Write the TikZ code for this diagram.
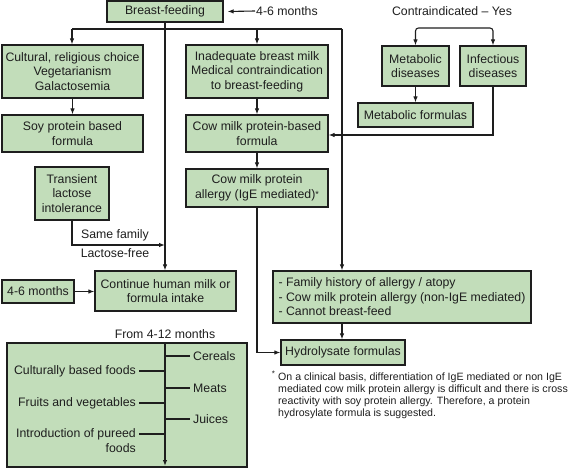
\documentclass[tikz,border=0pt]{standalone}
\usepackage{fontspec}
\setmainfont{Liberation Sans}
\usetikzlibrary{arrows.meta}
\definecolor{boxgreen}{RGB}{194,221,186}
\definecolor{edgec}{RGB}{30,30,30}
\begin{document}
\begin{tikzpicture}[x=1pt,y=-1pt,
  every node/.style={font=\fontsize{12.3}{14.5}\selectfont, text=edgec},
  box/.style={draw=edgec, fill=boxgreen, line width=1.2pt, inner sep=0pt, align=center},
  arr/.style={draw=edgec, line width=1.1pt, -{Latex[length=6pt,width=4.5pt]}},
  arrboth/.style={draw=edgec, line width=1.1pt, {Latex[length=6pt,width=4.5pt]}-{Latex[length=6pt,width=4.5pt]}},
  ln/.style={draw=edgec, line width=1.1pt},
  lbl/.style={inner sep=1pt},
  note/.style={font=\fontsize{10.6}{11.8}\selectfont, inner sep=0pt, align=left}]
\useasboundingbox (0,0) rectangle (572,468);

% boxes
\node[box, minimum width=116pt, minimum height=21pt] (bf) at (165,11.5) {Breast-feeding};
\node[box, minimum width=141pt, minimum height=53pt] (cult) at (72.5,71.5) {Cultural, religious choice\\Vegetarianism\\Galactosemia};
\node[box, minimum width=141pt, minimum height=37pt] (soy) at (72.5,133.5) {Soy protein based\\formula};
\node[box, minimum width=142pt, minimum height=53pt] (inad) at (257,71.5) {Inadequate breast milk\\Medical contraindication\\to breast-feeding};
\node[box, minimum width=142pt, minimum height=37pt] (cowb) at (257,133.5) {Cow milk protein-based\\formula};
\node[box, minimum width=142pt, minimum height=38pt] (cma) at (257,188) {Cow milk protein\\allergy (IgE mediated)\raisebox{0.5pt}{\fontsize{9}{9}\selectfont *}};
\node[box, minimum width=67pt, minimum height=40pt] (meta) at (415.5,66) {Metabolic\\diseases};
\node[box, minimum width=66pt, minimum height=40pt] (infe) at (493,66) {Infectious\\diseases};
\node[box, minimum width=115pt, minimum height=24pt] (metf) at (415.5,115) {Metabolic formulas};
\node[box, minimum width=74pt, minimum height=53pt] (trans) at (72,193.5) {Transient\\lactose\\intolerance};
\node[box, minimum width=72pt, minimum height=23pt] (four) at (38,291.5) {4-6 months};
\node[box, minimum width=141pt, minimum height=40pt] (cont) at (165.5,291) {Continue human milk or\\formula intake};
\node[box, minimum width=258pt, minimum height=52pt, align=left] (fam) at (402,297) {- Family history of allergy / atopy\\- Cow milk protein allergy (non-IgE mediated)\\- Cannot breast-feed};
\node[box, minimum width=124pt, minimum height=25pt] (hyd) at (343,352.5) {Hydrolysate formulas};
\node[box, minimum width=240pt, minimum height=124pt] (big) at (127,405) {};

% free labels
\node[lbl, anchor=west] (m46) at (255,11) {4-6 months};
\node[lbl] (contra) at (452,11) {Contraindicated -- Yes};
\node[lbl] (same) at (115,235) {Same family};
\node[lbl] (lfree) at (115,253) {Lactose-free};
\node[lbl] (from) at (165,334) {From 4-12 months};

% coordinates
\coordinate (hl) at (72,29);
\coordinate (hr) at (342,29);
\coordinate (cm) at (454,28);
\coordinate (ij) at (493,135);
\coordinate (tj) at (72,245);
\coordinate (vt) at (165,344);
\coordinate (vb) at (165,466);

% connectors
\draw[arr] (m46.west) -- ([xshift=4pt]bf.east);
\draw[arr] (bf.south) -- (bf.south |- cont.north);
\draw[ln] (hl) -- (hr);
\draw[arr] (hl) -- (hl |- cult.north);
\draw[arr] (inad.north |- hl) -- (inad.north);
\draw[arr] (hr) -- (hr |- fam.north);
\draw[arr] (cult) -- (soy);
\draw[arr] (inad) -- (cowb);
\draw[arr] (cowb) -- (cma);
\draw[arrboth, rounded corners=3pt] (meta.north) |- (cm) -| (infe.north);
\draw[arr] (meta.south) -- (meta.south |- metf.north);
\draw[arr] (infe.south) -- (ij) -- (ij -| cowb.east);
\draw[arr] (trans.south) -- (tj) -- (tj -| bf.south);
\draw[arr] (four.east) -- (four.east -| cont.west);
\draw[arr] (cma.south) |- (hyd.west);
\draw[arr] (hr |- fam.south) -- (hr |- hyd.north);

% inside the 4-12 months box
\draw[arr] (vt) -- (vb);
\node[lbl, anchor=west, inner sep=3pt] (cer) at (190,356) {Cereals};
\node[lbl, anchor=west, inner sep=3pt] (mea) at (190,388) {Meats};
\node[lbl, anchor=west, inner sep=3pt] (jui) at (190,419) {Juices};
\node[lbl, anchor=east, inner sep=3pt] (cbf) at (139,371) {Culturally based foods};
\node[lbl, anchor=east, inner sep=3pt] (fv) at (139,403) {Fruits and vegetables};
\node[lbl, anchor=east, inner sep=3pt] (ipf) at (139,434) {Introduction of pureed};
\node[lbl, anchor=east, inner sep=3pt] (ipf2) at (139,448.5) {foods};
\draw[ln] (cer.west -| vt) -- (cer.west);
\draw[ln] (mea.west -| vt) -- (mea.west);
\draw[ln] (jui.west -| vt) -- (jui.west);
\draw[ln] (cbf.east) -- (cbf.east -| vt);
\draw[ln] (fv.east) -- (fv.east -| vt);
\draw[ln] (ipf.east) -- (ipf.east -| vt);

% footnote
\node[note, anchor=north west] (fn) at (278,373) {On a clinical basis, differentiation of IgE mediated or non IgE\\mediated cow milk protein allergy is difficult and there is cross\\reactivity with soy protein allergy. Therefore, a protein\\hydrosylate formula is suggested.};
\node[inner sep=0pt, font=\fontsize{8}{8}\selectfont] (ast) at (273.5,374) {*};
\end{tikzpicture}
\end{document}
